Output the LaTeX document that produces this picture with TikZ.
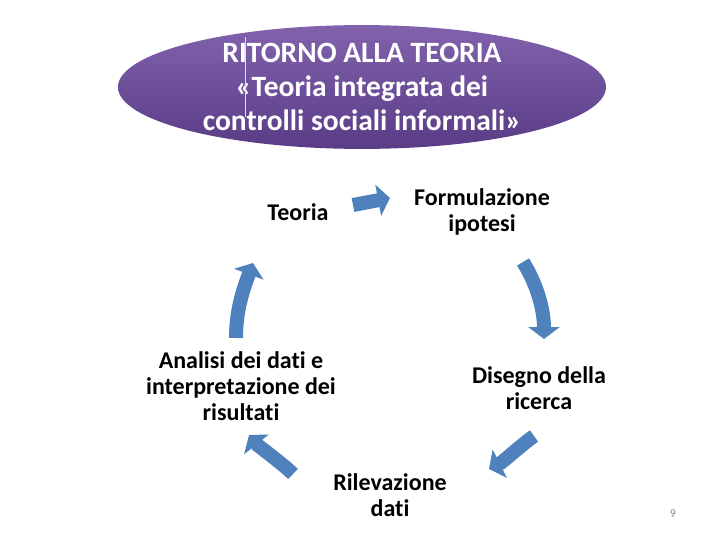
\documentclass[tikz,border=0pt]{standalone}
\usepackage{fontspec}
\setmainfont{Carlito}[Ligatures=NoCommon]
\usetikzlibrary{arrows.meta,shapes.geometric}
\definecolor{arrowblue}{HTML}{4F81BD}
\definecolor{purpletop}{HTML}{8262AD}
\definecolor{purplebot}{HTML}{5A3C86}
\definecolor{pagenum}{HTML}{8C8C8C}
\tikzset{
  label/.style={align=center,font=\fontsize{24}{26}\selectfont\bfseries,text=black,inner sep=0pt},
  cyclearrow/.style={draw=arrowblue,line width=14pt,-{Triangle[length=12pt,width=31pt]},arrowblue},
}
\begin{document}
\begin{tikzpicture}[x=1pt,y=-1pt]
\useasboundingbox[fill=white] (0,0) rectangle (720,540);
% title ellipse
\node[ellipse,minimum width=488pt,minimum height=114pt,inner sep=0pt,
      top color=purpletop,bottom color=purplebot,draw=none,
      text=white,align=center,font=\fontsize{29.5}{34}\selectfont\bfseries] (title) at (362,87)
  {RITORNO ALLA TEORIA\\«Teoria integrata dei\\controlli sociali informali»};
\coordinate (mt) at (245,37);
\coordinate (mb) at (245,117);
\draw[white!75!gray,line width=0.8pt] (mt) -- (mb);
% labels
\node[label] (teoria) at (298,212) {Teoria};
\node[label] (form) at (482,212) {Formulazione\\ipotesi};
\node[label] (dis) at (539,388) {Disegno della\\ricerca};
\node[label] (ril) at (390,495) {Rilevazione\\dati};
\node[label] (ana) at (241,386) {Analisi dei dati e\\interpretazione dei\\risultati};
\node[text=pagenum,font=\fontsize{12}{14}\selectfont,inner sep=0pt] (num) at (673,514) {9};
% arrow end points
\coordinate (a1s) at (353,205);
\coordinate (a1e) at (390,198);
\coordinate (a2s) at (523,262);
\coordinate (a2e) at (544,339);
\coordinate (a3s) at (534,436);
\coordinate (a3e) at (489,469);
\coordinate (a4s) at (293,474);
\coordinate (a4e) at (249,435);
\coordinate (a5s) at (236,338);
\coordinate (a5e) at (253,263);
% arrows
\draw[cyclearrow] (a1s) -- (a1e);
\draw[cyclearrow] (a2s) .. controls (537,284) and (544,310) .. (a2e);
\draw[cyclearrow] (a3s) .. controls (520,446) and (503,462) .. (a3e);
\draw[cyclearrow] (a4s) .. controls (283,464) and (257,445) .. (a4e);
\draw[cyclearrow] (a5s) .. controls (236,310) and (243,290) .. (a5e);
\end{tikzpicture}
\end{document}
